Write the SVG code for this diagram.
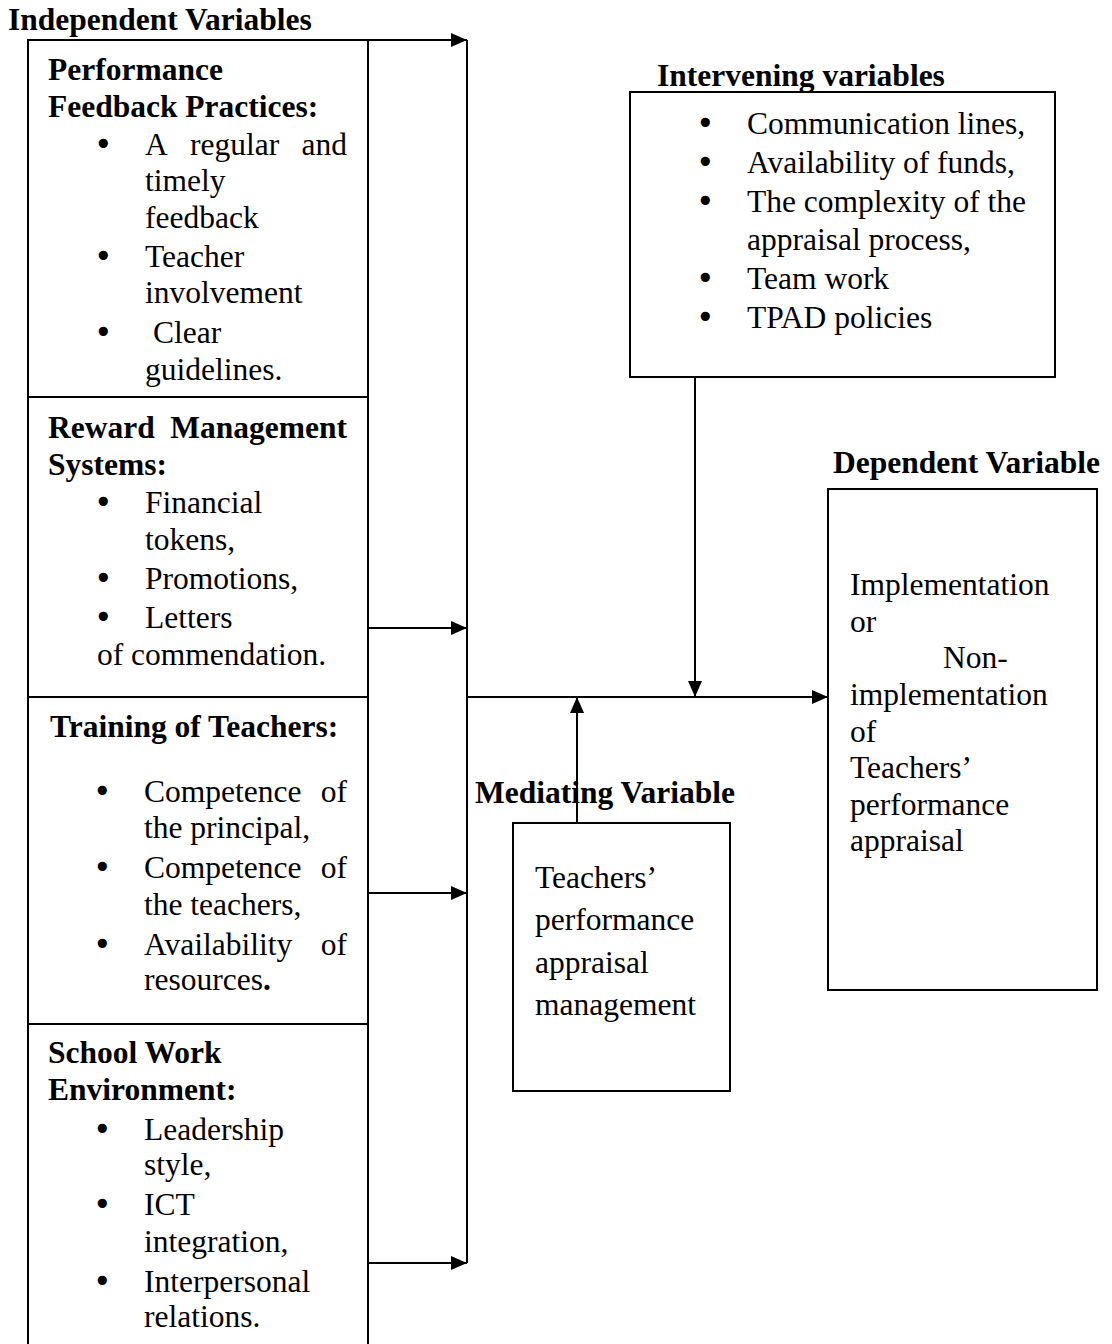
<svg xmlns="http://www.w3.org/2000/svg" width="1112" height="1344" viewBox="0 0 1112 1344">
<style>
.box{fill:none;stroke:#000;stroke-width:2}
.ln{fill:none;stroke:#000;stroke-width:2}
text{font-family:"Liberation Serif","Times New Roman",serif;font-size:31.5px;fill:#000}
.b{font-weight:bold}
.bl{font-family:"DejaVu Sans",sans-serif;font-size:31.5px}
</style>
<defs>
<marker id="ah" markerUnits="userSpaceOnUse" markerWidth="16" markerHeight="14" refX="16" refY="7" orient="auto">
<path d="M0,0 L16,7 L0,14 z" fill="#000"/>
</marker>
</defs>
<rect width="1112" height="1344" fill="#fff"/>
<text class="b" x="8" y="30">Independent Variables</text>

<g id="feedback">
<rect class="box" x="28" y="40" width="340" height="357"/>
<text class="b" x="48" y="80">Performance</text>
<text class="b" x="48" y="117">Feedback Practices:</text>
<text class="bl" x="94" y="155">•</text>
<text x="145" y="155">A</text><text x="190" y="155">regular</text><text x="347" y="155" text-anchor="end">and</text>
<text x="145" y="191">timely</text>
<text x="145" y="228">feedback</text>
<text class="bl" x="94" y="267">•</text>
<text x="145" y="267">Teacher</text>
<text x="145" y="303">involvement</text>
<text class="bl" x="94" y="343">•</text>
<text x="153" y="343">Clear</text>
<text x="145" y="380">guidelines.</text>
</g>

<g id="reward">
<rect class="box" x="28" y="397" width="340" height="300"/>
<text class="b" x="48" y="438">Reward</text><text class="b" x="347" y="438" text-anchor="end">Management</text>
<text class="b" x="48" y="475">Systems:</text>
<text class="bl" x="94" y="513">•</text>
<text x="145" y="513">Financial</text>
<text x="145" y="550">tokens,</text>
<text class="bl" x="94" y="589">•</text>
<text x="145" y="589">Promotions,</text>
<text class="bl" x="94" y="628">•</text>
<text x="145" y="628">Letters</text>
<text x="97" y="665">of commendation.</text>
</g>

<g id="training">
<rect class="box" x="28" y="697" width="340" height="327"/>
<text class="b" x="50" y="737">Training of Teachers:</text>
<text class="bl" x="93" y="802">•</text>
<text x="144" y="802">Competence</text><text x="347" y="802" text-anchor="end">of</text>
<text x="144" y="838">the principal,</text>
<text class="bl" x="93" y="878">•</text>
<text x="144" y="878">Competence</text><text x="347" y="878" text-anchor="end">of</text>
<text x="144" y="915">the teachers,</text>
<text class="bl" x="93" y="955">•</text>
<text x="144" y="955">Availability</text><text x="347" y="955" text-anchor="end">of</text>
<text x="144" y="990">resources<tspan class="b">.</tspan></text>
</g>

<g id="school">
<rect class="box" x="28" y="1024" width="340" height="330"/>
<text class="b" x="48" y="1063">School Work</text>
<text class="b" x="48" y="1100">Environment:</text>
<text class="bl" x="93" y="1140">•</text>
<text x="144" y="1140">Leadership</text>
<text x="144" y="1175">style,</text>
<text class="bl" x="93" y="1215">•</text>
<text x="144" y="1215">ICT</text>
<text x="144" y="1252">integration,</text>
<text class="bl" x="93" y="1292">•</text>
<text x="144" y="1292">Interpersonal</text>
<text x="144" y="1327">relations.</text>
</g>

<g id="intervening">
<rect class="box" x="630" y="92" width="425" height="285"/>
<text class="b" x="657" y="86">Intervening variables</text>
<text class="bl" x="696" y="134">•</text>
<text x="747" y="134">Communication lines,</text>
<text class="bl" x="696" y="173">•</text>
<text x="747" y="173">Availability of funds,</text>
<text class="bl" x="696" y="212">•</text>
<text x="747" y="212">The complexity of the</text>
<text x="747" y="250">appraisal process,</text>
<text class="bl" x="696" y="289">•</text>
<text x="747" y="289">Team work</text>
<text class="bl" x="696" y="328">•</text>
<text x="747" y="328">TPAD policies</text>
</g>

<g id="mediating">
<rect class="box" x="513" y="823" width="217" height="268"/>
<text class="b" x="475" y="803">Mediating Variable</text>
<text x="535" y="888">Teachers’</text>
<text x="535" y="930">performance</text>
<text x="535" y="973">appraisal</text>
<text x="535" y="1015">management</text>
</g>

<g id="dependent">
<rect class="box" x="828" y="489" width="269" height="501"/>
<text class="b" x="833" y="473">Dependent Variable</text>
<text x="850" y="595">Implementation</text>
<text x="850" y="632">or</text>
<text x="943" y="668">Non-</text>
<text x="850" y="705">implementation</text>
<text x="850" y="742">of</text>
<text x="850" y="778">Teachers’</text>
<text x="850" y="815">performance</text>
<text x="850" y="851">appraisal</text>
</g>

<g id="connectors">
<path class="ln" d="M368,40 H467" marker-end="url(#ah)"/>
<path class="ln" d="M467,40 V1263"/>
<path class="ln" d="M368,628 H467" marker-end="url(#ah)"/>
<path class="ln" d="M368,893 H467" marker-end="url(#ah)"/>
<path class="ln" d="M368,1263 H467" marker-end="url(#ah)"/>
<path class="ln" d="M467,697 H828" marker-end="url(#ah)"/>
<path class="ln" d="M695,377 V697" marker-end="url(#ah)"/>
<path class="ln" d="M577,823 V697" marker-end="url(#ah)"/>
</g>
</svg>
